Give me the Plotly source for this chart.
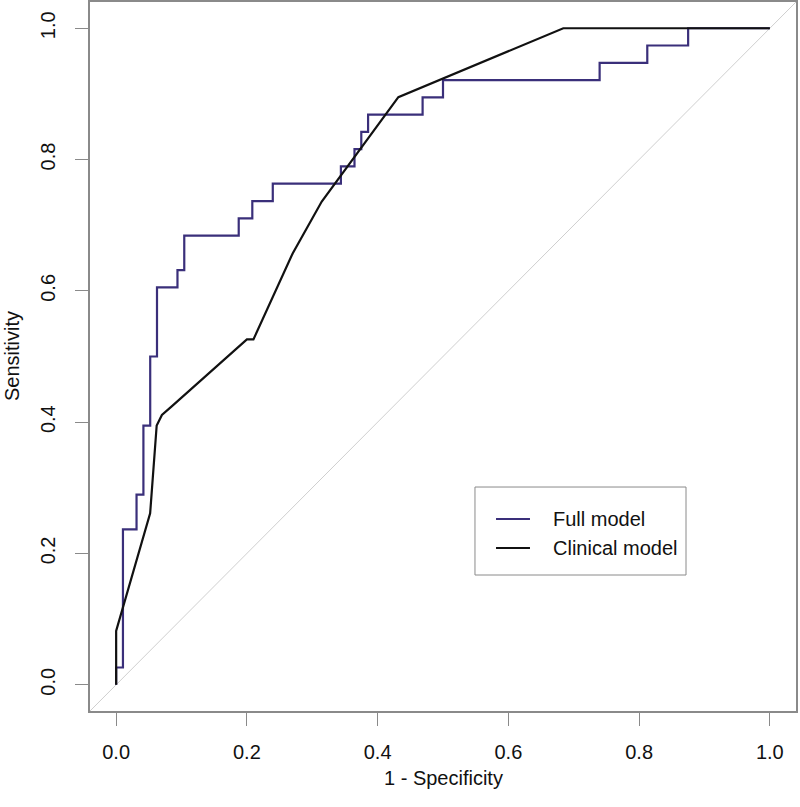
import plotly.graph_objects as go

# ROC data: Full model (step curve vertices, drawn with 'vh' shape)
full_fpr = [0.0, 0.0104, 0.0312, 0.0417, 0.0521, 0.0625, 0.0938, 0.1042, 0.1875, 0.2083,
            0.2396, 0.3438, 0.3646, 0.375, 0.3854, 0.4688, 0.5, 0.7396, 0.8125, 0.875, 1.0]
full_tpr = [0.0, 0.0263, 0.2368, 0.2895, 0.3947, 0.5, 0.6053, 0.6316, 0.6842, 0.7105,
            0.7368, 0.7632, 0.7895, 0.8158, 0.8421, 0.8684, 0.8947, 0.9211, 0.9474, 0.9737, 1.0]

# Clinical model
clin_fpr = [0.0, 0.0, 0.052, 0.062, 0.070, 0.085, 0.200, 0.210, 0.270, 0.3145, 0.4317, 0.684, 1.0]
clin_tpr = [0.0, 0.082, 0.261, 0.395, 0.411, 0.424, 0.526, 0.526, 0.657, 0.736, 0.895, 1.0, 1.0]

# Reference diagonal
diag_x = [-0.04, 1.04]
diag_y = [-0.04, 1.04]

tick_vals = [0.0, 0.2, 0.4, 0.6, 0.8, 1.0]
tick_text = ["0.0", "0.2", "0.4", "0.6", "0.8", "1.0"]

series_names = ["Full model", "Clinical model"]

FONT = "Liberation Sans, Arial, Helvetica, sans-serif"
FS = 20
GREY = "#8a8a8a"
FULL_COLOR = "#3a2f7a"
CLIN_COLOR = "#111111"
LW = 2.2

fig = go.Figure()
fig.add_trace(go.Scatter(x=diag_x, y=diag_y, mode="lines",
                         line=dict(color="#cfcfcf", width=1), showlegend=False,
                         hoverinfo="skip"))
fig.add_trace(go.Scatter(x=full_fpr, y=full_tpr, mode="lines", name=series_names[0],
                         line=dict(color=FULL_COLOR, width=LW, shape="vh"),
                         showlegend=False))
fig.add_trace(go.Scatter(x=clin_fpr, y=clin_tpr, mode="lines", name=series_names[1],
                         line=dict(color=CLIN_COLOR, width=LW), showlegend=False))

axis_common = dict(
    range=[-0.04, 1.04], tickvals=tick_vals, ticktext=tick_text,
    showgrid=False, zeroline=False, showline=True, mirror=True,
    linecolor=GREY, linewidth=1.5, ticks="outside", ticklen=13,
    tickcolor=GREY, tickwidth=1.2, automargin=False,
    tickfont=dict(family=FONT, size=FS, color="#111111"),
)

# Legend box (R-style) built from shapes + text in paper coordinates
leg_x0, leg_x1, leg_y0, leg_y1 = 0.5453, 0.8442, 0.1918, 0.3159
leg_line_x0, leg_line_x1, leg_text_x = 0.5751, 0.6232, 0.653
leg_rows_y = [0.2708, 0.2299]
leg_colors = [FULL_COLOR, CLIN_COLOR]

shapes = [dict(type="rect", xref="paper", yref="paper", x0=leg_x0, x1=leg_x1,
               y0=leg_y0, y1=leg_y1, line=dict(color=GREY, width=1),
               fillcolor="white", layer="above")]
annotations = []
for name, col, yy in zip(series_names, leg_colors, leg_rows_y):
    shapes.append(dict(type="line", xref="paper", yref="paper", x0=leg_line_x0,
                       x1=leg_line_x1, y0=yy, y1=yy, line=dict(color=col, width=LW),
                       layer="above"))
    annotations.append(dict(text=name, xref="paper", yref="paper", x=leg_text_x, y=yy,
                            xanchor="left", yanchor="middle", showarrow=False,
                            font=dict(family=FONT, size=FS, color="#111111")))

annotations += [
    dict(text="1 - Specificity", xref="paper", yref="paper", x=0.5, y=-0.0945,
         xanchor="center", yanchor="middle", showarrow=False,
         font=dict(family=FONT, size=FS, color="#111111")),
    dict(text="Sensitivity", xref="paper", yref="paper", x=-0.1105, y=0.5007,
         xanchor="center", yanchor="middle", showarrow=False, textangle=-90,
         font=dict(family=FONT, size=FS, color="#111111")),
]

fig.update_layout(
    width=800, height=807,
    margin=dict(l=90, r=4, t=2, b=96),
    paper_bgcolor="white", plot_bgcolor="white",
    font=dict(family=FONT, size=FS, color="#111111"),
    xaxis=dict(**axis_common, ticklabelstandoff=9),
    yaxis=dict(**axis_common, tickangle=-90, ticklabelstandoff=12),
    showlegend=False,
    shapes=shapes,
    annotations=annotations,
)

fig.write_html("out.html", config={"displayModeBar": False},
               post_script="document.body.style.margin='0px';")
